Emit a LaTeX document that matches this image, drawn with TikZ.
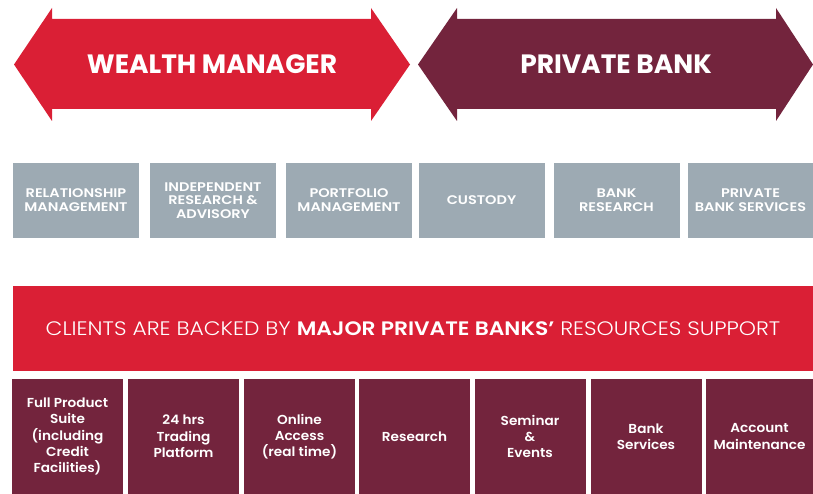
\documentclass[tikz,border=0pt]{standalone}
\usepackage{fontspec}
\setmainfont{Poppins}
\newfontfamily\lightfont[FakeStretch=1.12]{Poppins Light}
\newfontfamily\heavyfont[FakeStretch=1.12]{Poppins SemiBold}
\newfontfamily\tilefont[FakeStretch=1.16]{Poppins SemiBold}
\newfontfamily\perkfont[FakeStretch=1.05]{Poppins SemiBold}
\definecolor{wmred}{HTML}{DA1F35}
\definecolor{pbwine}{HTML}{73243D}
\definecolor{slate}{HTML}{9DAAB3}
\tikzset{
	tile/.style={fill=slate, text=white, minimum width=126pt, minimum height=75pt, align=center, font=\tilefont\fontsize{12.5}{13.8}\selectfont, inner sep=0pt},
	perk/.style={fill=pbwine, text=white, minimum width=111pt, minimum height=115pt, align=center, font=\perkfont\fontsize{13}{16.3}\selectfont, inner sep=0pt},
	headline/.style={text=white, font=\fontsize{26.5}{30}\selectfont\bfseries}
}
\begin{document}
\begin{tikzpicture}[x=1pt, y=-1pt]
		\useasboundingbox (0,0) rectangle (813,494);
		\fill[wmred] (14,64.5) -- (52,8) -- (52,19) -- (371,19) -- (371,8) -- (410,64.5) -- (371,121) -- (371,109) -- (52,109) -- (52,121) -- cycle;
		\fill[pbwine] (418,64.5) -- (457,8) -- (457,19) -- (776,19) -- (776,8) -- (813,64.5) -- (776,121) -- (776,109) -- (457,109) -- (457,121) -- cycle;
		\node[headline] (wm) at (212,64) {WEALTH MANAGER};
		\node[headline] (pb) at (616,64) {PRIVATE BANK};
		\node[tile] (rm) at (76,200.5) {RELATIONSHIP\\MANAGEMENT};
		\node[tile] (ira) at (213,200.5) {INDEPENDENT\\RESEARCH \&\\ADVISORY};
		\node[tile] (pm) at (349,200.5) {PORTFOLIO\\MANAGEMENT};
		\node[tile] (cust) at (481.5,200.5) {CUSTODY};
		\node[tile] (bres) at (616.5,200.5) {BANK\\RESEARCH};
		\node[tile] (pbs) at (750.5,200.5) {PRIVATE\\BANK SERVICES};
		\fill[wmred] (13,286) rectangle (813,371);
		\node[text=white, font=\fontsize{19.5}{23}\selectfont] (clients) at (413,328.5) {\lightfont CLIENTS ARE BACKED BY {\heavyfont MAJOR PRIVATE BANKS’} RESOURCES SUPPORT};
		\node[perk] (fps) at (67.5,436.5) {Full Product\\Suite\\(including\\Credit\\Facilities)};
		\node[perk] (trade) at (183.5,436.5) {24 hrs\\Trading\\Platform};
		\node[perk] (online) at (299.5,436.5) {Online\\Access\\(real time)};
		\node[perk] (res) at (414.5,436.5) {Research};
		\node[perk] (sem) at (530,436.5) {Seminar\\\&\\Events};
		\node[perk] (bsv) at (646,436.5) {Bank\\Services};
		\node[perk, minimum width=107pt] (acct) at (759.5,436.5) {Account\\Maintenance};
\end{tikzpicture}
\end{document}
